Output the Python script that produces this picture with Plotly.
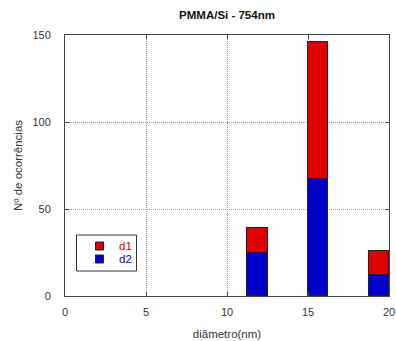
import plotly.graph_objects as go

# Histogram bins (nm) and counts
bin_centers = [11.875, 15.625, 19.375]
bin_width = 1.25
d2_counts = [25, 67, 12]
d1_counts = [14, 79, 14]  # stacked on top of d2

x_ticks = [0, 5, 10, 15, 20]
y_ticks = [0, 50, 100, 150]

RED = "#e00000"
BLUE = "#0000cc"
FONT = "Liberation Sans, Arial"

fig = go.Figure()
fig.add_trace(go.Bar(
    x=bin_centers, y=d2_counts, width=[bin_width]*len(bin_centers),
    marker=dict(color=BLUE, line=dict(color="#222222", width=1)), name="d2",
))
fig.add_trace(go.Bar(
    x=bin_centers, y=d1_counts, width=[bin_width]*len(bin_centers),
    marker=dict(color=RED, line=dict(color="#222222", width=1)), name="d1",
))

axis_common = dict(
    showline=True, linecolor="#444444", linewidth=1, mirror="ticks",
    ticks="inside", ticklen=4, tickcolor="#444444",
    showgrid=True, gridcolor="#999999", griddash="1px,1px", gridwidth=1,
    zeroline=False, automargin=False,
    tickfont=dict(family=FONT, size=11, color="#333333"),
    title_font=dict(family=FONT, size=11.5, color="#333333"),
)

# Manual legend (paper coordinates derived from pixel layout)
L, R, T, B = 65, 389, 35, 296
px = lambda v: (v - L) / (R - L)
py = lambda v: (B - v) / (B - T)
shapes = [
    dict(type="rect", xref="paper", yref="paper", x0=px(76.5), x1=px(136.5), y0=py(271), y1=py(235),
         line=dict(color="#333333", width=1), fillcolor="white", layer="above"),
]
annotations = []
for (label, col, yc) in [("d1", RED, 246), ("d2", BLUE, 259)]:
    shapes.append(dict(type="rect", xref="paper", yref="paper",
                       x0=px(95.5), x1=px(103.5), y0=py(yc + 4), y1=py(yc - 4),
                       fillcolor=col, line=dict(color="#222222", width=1), layer="above"))
    annotations.append(dict(text=label, xref="paper", yref="paper", x=px(117), y=py(yc),
                            xanchor="left", yanchor="middle", showarrow=False,
                            font=dict(family=FONT, size=11.5, color=col)))

fig.update_layout(
    width=396, height=341,
    margin=dict(l=L, r=396 - R, t=T, b=341 - B),
    barmode="stack", bargap=0,
    paper_bgcolor="white", plot_bgcolor="white",
    title=dict(text="<b>PMMA/Si - 754nm</b>", x=(L + R) / 2 / 396, xanchor="center",
               y=1 - 15 / 341, yanchor="middle",
               font=dict(family=FONT, size=11.5, color="#111111")),
    xaxis=dict(range=[0, 20], tickvals=x_ticks, ticklabelstandoff=6,
               title=dict(text="diâmetro(nm)", standoff=12), **axis_common),
    yaxis=dict(range=[0, 150], tickvals=y_ticks, ticklabelstandoff=11,
               title=dict(text="Nº de ocorrências", standoff=7), **axis_common),
    shapes=shapes, annotations=annotations,
    showlegend=False,
)

fig.write_html("out.html")
